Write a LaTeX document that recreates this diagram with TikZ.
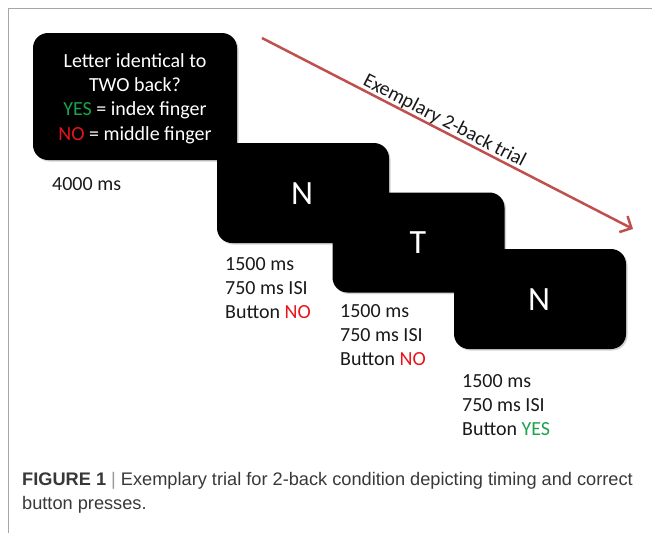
\documentclass[tikz,border=0pt]{standalone}
\usepackage{fontspec}
\setmainfont{Carlito}
\newfontfamily\capfont{Liberation Sans}
\usetikzlibrary{arrows.meta,shadows}
\definecolor{yesgreen}{HTML}{1BA24A}
\definecolor{nored}{HTML}{E8141B}
\definecolor{arrowred}{HTML}{C0504D}
\definecolor{framegray}{HTML}{A6A6A6}
\definecolor{captext}{HTML}{383838}
\definecolor{bartext}{HTML}{999999}
\begin{document}
\begin{tikzpicture}[x=1pt,y=-1pt,
  screen/.style={fill=black, rounded corners=15pt, inner sep=0pt,
    minimum width=172pt, minimum height=100pt,
    drop shadow={shadow xshift=1.5pt,shadow yshift=-1.5pt,opacity=0.35}},
  lbl/.style={anchor=base west, inner sep=0pt, text=black!90, font=\fontsize{20}{24}\selectfont},
  letter/.style={text=white, inner sep=0pt, font=\fontsize{34}{40}\selectfont},
  caption/.style={anchor=base west, inner sep=0pt, text=captext, font=\capfont\fontsize{18.2}{24}\selectfont}]
\useasboundingbox (0,0) rectangle (652,533);
\coordinate (f1) at (652,8);
\coordinate (f2) at (8,8);
\coordinate (f3) at (8,533);
\draw[framegray, line width=1pt] (f1) -- (f2) -- (f3);

% screens
\node[screen, minimum width=204pt, minimum height=127pt] (s1) at (135,96.5) {};
\node[align=center, text=white, inner sep=0pt, font=\fontsize{20}{24.3}\selectfont] (q) at (135,98.5)
  {Letter identical to\\TWO back?\\\textcolor{yesgreen}{YES} = index finger\\\textcolor{nored}{NO} = middle finger};
\node[lbl] (t1) at (52,190) {4000 ms};

\node[screen] (s2) at (303,193) {};
\node[letter] (l2) at (302,194) {N};
\node[lbl] (t2a) at (225,270) {1500 ms};
\node[lbl] (t2b) at (225,294) {750 ms ISI};
\node[lbl] (t2c) at (225,318) {Button \textcolor{nored}{NO}};

\node[screen] (s3) at (418.5,242.5) {};
\node[letter] (l3) at (418,243) {T};
\node[lbl] (t3a) at (340,317) {1500 ms};
\node[lbl] (t3b) at (340,341) {750 ms ISI};
\node[lbl] (t3c) at (340,365) {Button \textcolor{nored}{NO}};

\node[screen] (s4) at (540,299) {};
\node[letter] (l4) at (539,300) {N};
\node[lbl] (t4a) at (462,387) {1500 ms};
\node[lbl] (t4b) at (462,411) {750 ms ISI};
\node[lbl] (t4c) at (462,435) {Button \textcolor{yesgreen}{YES}};

% arrow
\coordinate (as) at (262,38);
\coordinate (ae) at (633,229);
\draw[arrowred, line width=2.5pt, -{Straight Barb[length=9pt,width=18pt]}] (as) --
  node[sloped, above, pos=0.48, text depth=0pt, inner sep=3pt, text=black!90, font=\fontsize{20}{24}\selectfont] (lab) {Exemplary 2-back trial} (ae);

% caption
\node[caption] (c1) at (22,485) {\textbf{FIGURE 1} \textcolor{bartext}{|} Exemplary trial for 2-back condition depicting timing and correct};
\node[caption] (c2) at (22,509) {button presses.};
\end{tikzpicture}
\end{document}
